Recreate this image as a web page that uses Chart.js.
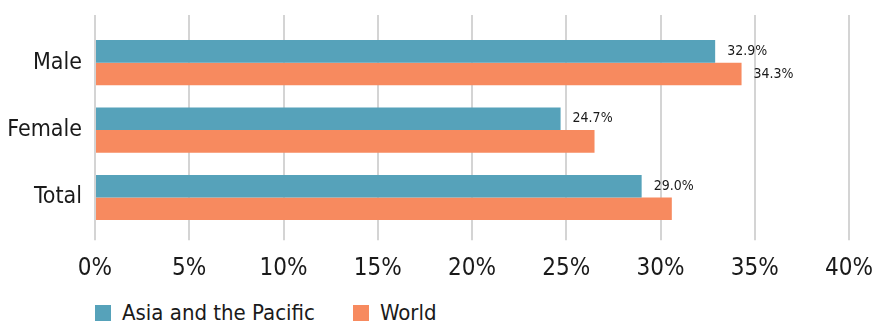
<!DOCTYPE html>
<html>
<head>
<meta charset="utf-8">
<script src="https://cdn.jsdelivr.net/npm/chart.js@4/dist/chart.umd.min.js"></script>
<style>
  html, body { margin: 0; padding: 0; background: #fff; }
  #wrap { position: relative; width: 874px; height: 325px; font-family: "Liberation Sans Narrow", "DejaVu Sans Condensed", sans-serif; }
  #chartBox { position: absolute; left: 0; top: 0; width: 874px; height: 297px; }
  #legend { position: absolute; left: 95px; top: 300px; display: flex; align-items: center; color: #1a1a1a; font-size: 22px; }
  #legend .item { display: flex; align-items: center; margin-right: 38px; }
  #legend .swatch { width: 16px; height: 16px; margin-right: 11px; }
</style>
</head>
<body>
<div id="wrap">
  <div id="chartBox"><canvas id="barChart"></canvas></div>
  <div id="legend"></div>
</div>
<script>
// Categories and series (percent)
const categories = ['Male', 'Female', 'Total'];
const asiaPacific = [32.9, 24.7, 29.0];
const world = [34.3, 26.5, 30.6];
// Which bars carry a value label
const asiaLabelled = [true, true, true];
const worldLabelled = [true, false, false];
const xTicks = [0, 5, 10, 15, 20, 25, 30, 35, 40];

const FONT = '"Liberation Sans Narrow", "DejaVu Sans Condensed", sans-serif';
const TEXT = '#1a1a1a';
const GRID = '#d4d4d4';

// Draws "xx.x%" to the right of selected bars
const valueLabels = {
    id: 'valueLabels',
    afterDatasetsDraw(chart) {
        const ctx = chart.ctx;
        ctx.save();
        ctx.font = '14px ' + FONT;
        ctx.fillStyle = TEXT;
        ctx.textAlign = 'left';
        ctx.textBaseline = 'middle';
        chart.data.datasets.forEach((ds, di) => {
            const meta = chart.getDatasetMeta(di);
            meta.data.forEach((bar, i) => {
                if (!ds.showValue[i]) return;
                ctx.fillText(ds.data[i].toFixed(1) + '%', bar.x + 12, bar.y);
            });
        });
        ctx.restore();
    }
};

const chart = new Chart(document.getElementById('barChart'), {
    type: 'bar',
    data: {
        labels: categories,
        datasets: [
            { label: 'Asia and the Pacific', data: asiaPacific, showValue: asiaLabelled, backgroundColor: '#56a2ba' },
            { label: 'World', data: world, showValue: worldLabelled, backgroundColor: '#f78a5f' }
        ]
    },
    options: {
        indexAxis: 'y',
        responsive: true,
        maintainAspectRatio: false,
        animation: false,
        categoryPercentage: 0.67,
        barPercentage: 1.0,
        layout: { padding: { top: 15, right: 0, bottom: 0, left: 0 } },
        plugins: {
            legend: { display: false },
            tooltip: { enabled: false }
        },
        scales: {
            x: {
                min: 0,
                max: 40,
                afterBuildTicks: (scale) => { scale.ticks = xTicks.map(v => ({ value: v })); },
                afterFit: (scale) => { scale.paddingLeft = 0; scale.paddingRight = 25; },
                ticks: {
                    color: TEXT,
                    font: { family: FONT, size: 24 },
                    padding: 14,
                    callback: (v) => v + '%'
                },
                grid: { color: GRID, lineWidth: 2, tickLength: 9, drawTicks: true },
                border: { display: false }
            },
            // top axis only extends the grid lines above the bars
            xTop: {
                axis: 'x',
                position: 'top',
                min: 0,
                max: 40,
                afterBuildTicks: (scale) => { scale.ticks = xTicks.map(v => ({ value: v })); },
                afterFit: (scale) => { scale.paddingLeft = 0; scale.paddingRight = 0; },
                ticks: { display: false },
                grid: { color: GRID, lineWidth: 2, tickLength: 14, drawOnChartArea: false },
                border: { display: false }
            },
            y: {
                afterFit: (scale) => { scale.width = 95; },
                ticks: {
                    color: TEXT,
                    font: { family: FONT, size: 23 },
                    padding: 13
                },
                grid: { display: false, drawTicks: false },
                border: { display: false }
            }
        }
    },
    plugins: [valueLabels]
});

// Legend built from the chart's datasets
const legendEl = document.getElementById('legend');
chart.data.datasets.forEach(ds => {
    const item = document.createElement('div');
    item.className = 'item';
    const sw = document.createElement('span');
    sw.className = 'swatch';
    sw.style.background = ds.backgroundColor;
    const txt = document.createElement('span');
    txt.textContent = ds.label;
    item.appendChild(sw);
    item.appendChild(txt);
    legendEl.appendChild(item);
});
</script>
</body>
</html>
